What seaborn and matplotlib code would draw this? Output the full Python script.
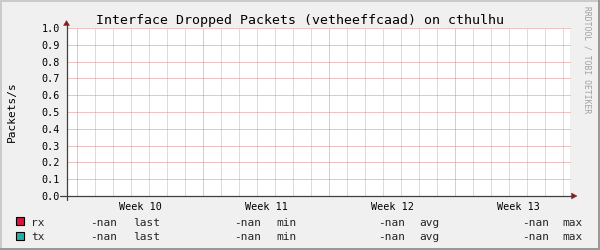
import numpy as np
import pandas as pd
import matplotlib
matplotlib.use("Agg")
import matplotlib.pyplot as plt
from matplotlib.patches import Rectangle, Polygon
from matplotlib.lines import Line2D
from matplotlib.transforms import IdentityTransform
import seaborn as sns

# ---- data ----
title = "Interface Dropped Packets (vetheeffcaad) on cthulhu"
y_label = "Packets/s"
week_labels = ["Week 10", "Week 11", "Week 12", "Week 13"]
week_starts = [0, 7, 14, 21]            # days since start of week 10
days = list(range(0, 28))               # daily minor grid
y_ticks = [0.0, 0.1, 0.2, 0.3, 0.4, 0.5, 0.6, 0.7, 0.8, 0.9, 1.0]
series_names = ["rx", "tx"]
series_colors = ["#DC143C", "#20B2AA"]
rx_values = [np.nan] * 28
tx_values = [np.nan] * 28
stat_names = ["last", "min", "avg", "max"]
rx_stats = ["-nan", "-nan", "-nan", "-nan"]
tx_stats = ["-nan", "-nan", "-nan", "-nan"]
watermark = "RRDTOOL / TOBI OETIKER"

# ---- style ----
sns.set_theme(style="white")
plt.rcParams['font.family'] = ['DejaVu Sans Mono', 'DejaVu Sans']

W, H = 600, 250
fig = plt.figure(figsize=(6, 2.5), dpi=100)
fig.patch.set_facecolor("#F0F0F0")

px = IdentityTransform()
def P(y_top):
    return H - y_top

ax_left, ax_right, ax_top, ax_bot = 66.5, 570, 28, 196
ax = fig.add_axes([ax_left / W, (H - ax_bot) / H, (ax_right - ax_left) / W, (ax_bot - ax_top) / H])
ax.set_facecolor("white")
for s in ax.spines.values():
    s.set_visible(False)

x0 = -(77 - ax_left) / 18.0
x1 = (ax_right - 77) / 18.0
ax.set_xlim(x0, x1)
ax.set_ylim(0, 1.0)

df = pd.DataFrame({"day": days * 2,
                   "value": rx_values + tx_values,
                   "series": ["rx"] * 28 + ["tx"] * 28})
try:
    sns.lineplot(data=df, x="day", y="value", hue="series",
                 palette=dict(zip(series_names, series_colors)), ax=ax, legend=False)
except Exception:
    pass
ax.set_xlim(x0, x1)
ax.set_ylim(0, 1.0)
ax.set_xlabel("")
ax.set_ylabel("")

dot = (0, (1, 1))
for d in days:
    if d in week_starts:
        continue
    ax.axvline(d, color="#B8B8B8", lw=0.72, ls=dot, zorder=0.5)
for d in week_starts:
    ax.axvline(d, color="#E08888", lw=0.72, ls=dot, zorder=0.6)
for yv in y_ticks[1:]:
    ax.axhline(yv, color="#E08888", lw=0.72, ls=dot, zorder=0.6, clip_on=False)

ax.set_yticks(y_ticks)
ax.set_yticklabels([f"{v:.1f}" for v in y_ticks], fontsize=7.3, color="black")
ax.tick_params(axis="y", length=0, pad=4.5)
ax.set_xticks([w + 3.5 for w in week_starts])
ax.set_xticklabels(week_labels, fontsize=7.3, color="black")
ax.tick_params(axis="x", length=0, pad=4.5)

# axes lines + arrows (pixel coords)
axis_col = "#404040"
arrow_col = "#8B1C1C"
fig.add_artist(Line2D([60, 572], [P(196), P(196)], color=axis_col, lw=0.9, transform=px))
fig.add_artist(Line2D([66.5, 66.5], [P(200), P(24)], color=axis_col, lw=0.9, transform=px))
fig.add_artist(Polygon([[571.5, P(193)], [577, P(196)], [571.5, P(199)]], closed=True,
                       facecolor=arrow_col, edgecolor=arrow_col, lw=0.3, transform=px))
fig.add_artist(Polygon([[63.5, P(25.5)], [66.5, P(20.5)], [69.5, P(25.5)]], closed=True,
                       facecolor=arrow_col, edgecolor=arrow_col, lw=0.3, transform=px))

# title, y label, watermark
fig.text(300, P(24), title, transform=px, ha="center", va="baseline", fontsize=9.5, color="black")
fig.text(11.5, P(112), y_label, transform=px, ha="center", va="center", rotation=90,
         fontsize=8, color="black")
fig.text(587, P(60), watermark, transform=px, ha="center", va="center", rotation=270,
         fontsize=5.8, color="#A0A0A0")

# legend
row_base = [225.5, 240.5]
sq_top = [217, 232]
stat_val_x = [90.5, 234, 378, 522]
stat_name_x = [133, 276, 419, 562]
for i, (name, col, stats) in enumerate(zip(series_names, series_colors, [rx_stats, tx_stats])):
    fig.add_artist(Rectangle((15.5, P(sq_top[i] + 8)), 8, 8, facecolor=col, edgecolor="black",
                             lw=0.8, transform=px))
    fig.text(31, P(row_base[i]), name, transform=px, ha="left", va="baseline", fontsize=8)
    for sv, sn, xv, xn in zip(stats, stat_names, stat_val_x, stat_name_x):
        fig.text(xv, P(row_base[i]), sv, transform=px, ha="left", va="baseline", fontsize=8)
        fig.text(xn, P(row_base[i]), sn, transform=px, ha="left", va="baseline", fontsize=8)

# bevel border
fig.add_artist(Rectangle((0, H - 2), W, 2, facecolor="#CBCBCB", edgecolor="none", transform=px))
fig.add_artist(Rectangle((0, 0), 2, H, facecolor="#CBCBCB", edgecolor="none", transform=px))
fig.add_artist(Rectangle((0, 0), W, 2, facecolor="#999999", edgecolor="none", transform=px))
fig.add_artist(Rectangle((W - 2, 0), 2, H, facecolor="#999999", edgecolor="none", transform=px))

fig.savefig("out.png", dpi=100, facecolor=fig.get_facecolor())
